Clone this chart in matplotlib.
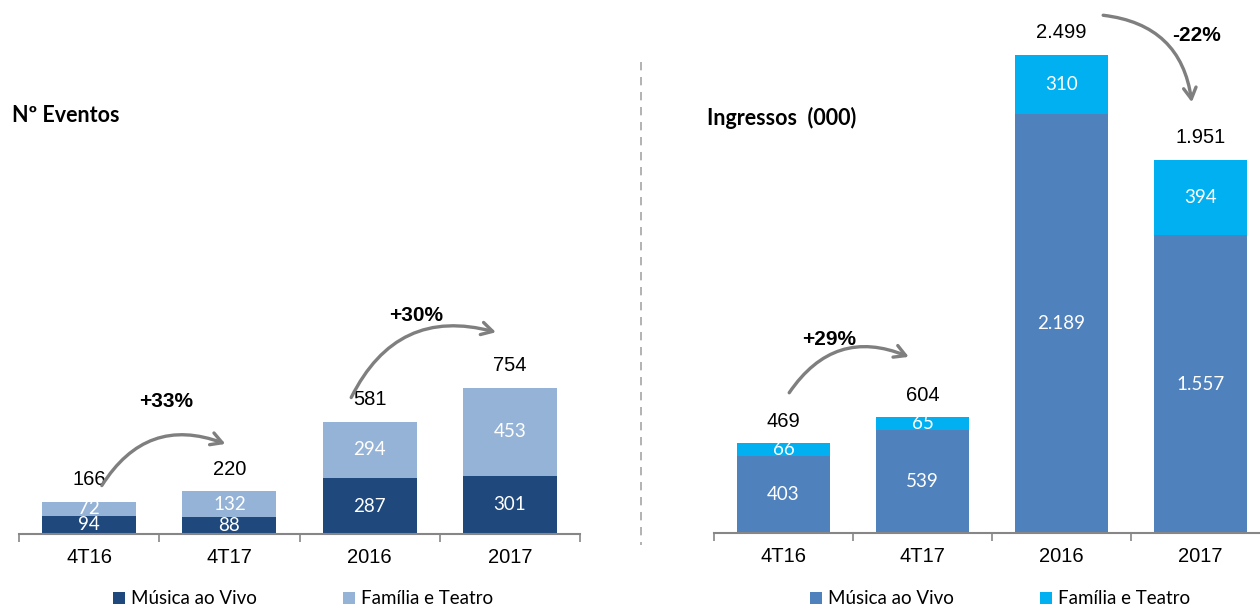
import matplotlib
matplotlib.use("Agg")
import matplotlib.pyplot as plt
from matplotlib.patches import FancyArrowPatch, Patch
from matplotlib.lines import Line2D

categories = ['4T16', '4T17', '2016', '2017']
eventos_musica = [94, 88, 287, 301]
eventos_familia = [72, 132, 294, 453]
eventos_total = [166, 220, 581, 754]
ingressos_musica = [403, 539, 2189, 1557]
ingressos_familia = [66, 65, 310, 394]
ingressos_total = [469, 604, 2499, 1951]

W, H = 1260, 607
fig = plt.figure(figsize=(W / 100, H / 100), dpi=100)

def fx(px):
    return px / W

def fy(py):
    return 1 - py / H

axL = fig.add_axes([fx(19), fy(534), fx(580 - 19), (534 - 5) / H])
axR = fig.add_axes([fx(714), fy(533), fx(1270 - 714), (533 - 5) / H])
axL.set_ylim(0, 2732)
axR.set_ylim(0, 2760)

num_font = 'Liberation Sans'
in_font = 'Lato'

def fmt(v):
    return f"{v:,}".replace(',', '.')

def style(ax, c1, c2, v1, v2, tot):
    x = range(len(categories))
    ax.set_xlim(-0.5, 3.5)
    ax.bar(x, v1, width=0.67, color=c1, zorder=2)
    ax.bar(x, v2, width=0.67, bottom=v1, color=c2, zorder=2)
    for i in x:
        ax.text(i, v1[i] / 2, fmt(v1[i]), ha='center', va='center',
                color='white', fontsize=13.5, family=in_font)
        ax.text(i, v1[i] + v2[i] / 2, fmt(v2[i]), ha='center', va='center',
                color='white', fontsize=13.5, family=in_font)
        ax.annotate(fmt(tot[i]), (i, tot[i]), xytext=(0, 16),
                    textcoords='offset points', ha='center', va='center',
                    fontsize=14.5, family=num_font, color='black')
    for s in ['top', 'left', 'right']:
        ax.spines[s].set_visible(False)
    ax.spines['bottom'].set_color('#868686')
    ax.spines['bottom'].set_linewidth(1.5)
    ax.set_yticks([])
    ax.set_xticks(list(x))
    ax.set_xticklabels(categories, fontsize=14.5, family=num_font)
    ax.tick_params(axis='x', which='major', length=0, pad=10)
    ax.set_xticks([-0.5, 0.5, 1.5, 2.5, 3.5], minor=True)
    ax.tick_params(axis='x', which='minor', length=6, width=1.2, color='#868686')
    ax.patch.set_alpha(0)

style(axL, '#1F497D', '#95B3D7', eventos_musica, eventos_familia, eventos_total)
style(axR, '#4F81BD', '#00B0F0', ingressos_musica, ingressos_familia, ingressos_total)

def arrow(ax, p1, p2, rad):
    a = FancyArrowPatch(p1, p2, connectionstyle=f"arc3,rad={rad}",
                        arrowstyle='->,head_length=8,head_width=4.5',
                        color='#7F7F7F', lw=2.4, clip_on=False, zorder=5,
                        mutation_scale=1)
    ax.add_patch(a)

pct_kw = dict(ha='center', va='center', fontsize=15, weight='bold', family=num_font)
axL.text(0.55, 682, '+33%', **pct_kw)
arrow(axL, (0.08, 238), (0.99, 460), -0.42)
axL.text(2.33, 1126, '+30%', **pct_kw)
arrow(axL, (1.86, 692), (2.92, 1038), -0.42)
axR.text(0.33, 1009, '+29%', **pct_kw)
arrow(axR, (0.03, 721), (0.92, 915), -0.42)
axR.text(2.97, 2603, '-22%', **pct_kw)
arrow(axR, (2.28, 2708), (2.94, 2237), -0.4)

fig.text(fx(12), fy(115), 'Nº Eventos', ha='left', va='center', fontsize=15.5,
         weight='bold', family='Lato')
fig.text(fx(707), fy(118), 'Ingressos  (000)', ha='left', va='center', fontsize=15.5,
         weight='bold', family='Lato')

fig.add_artist(Line2D([fx(641), fx(641)], [fy(62), fy(545)], color='#A6A6A6',
                      lw=1.2, linestyle=(0, (5, 4))))

def legend(center_px, c1, c2):
    h = [Patch(facecolor=c1), Patch(facecolor=c2)]
    fig.legend(h, ['Música ao Vivo', 'Família e Teatro'], loc='center',
               bbox_to_anchor=(fx(center_px), fy(599)), ncol=2, frameon=False,
               prop={'family': 'Lato', 'size': 13.5}, handlelength=0.65,
               handleheight=0.65, handletextpad=0.3, columnspacing=4.6,
               borderpad=0, borderaxespad=0)

legend(303, '#1F497D', '#95B3D7')
legend(1000, '#4F81BD', '#00B0F0')

fig.savefig('out.png', dpi=100)
